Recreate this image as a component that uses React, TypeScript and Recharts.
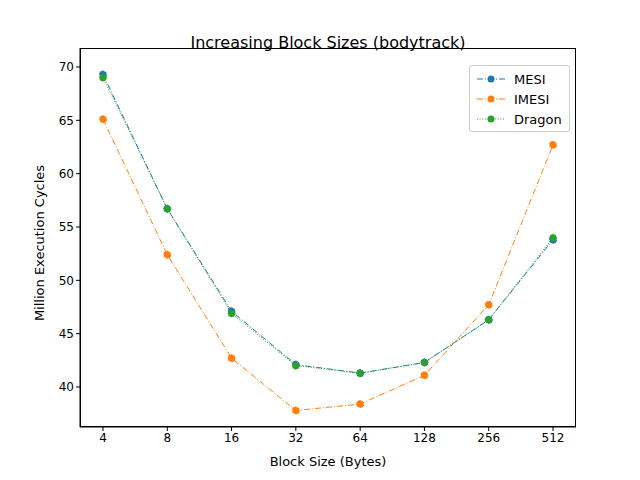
import React from "react";
import { LineChart, Line, XAxis, YAxis } from "recharts";

const categories = ["4", "8", "16", "32", "64", "128", "256", "512"];
const mesi = [69.3, 56.7, 47.1, 42.1, 41.3, 42.3, 46.3, 53.8];
const imesi = [65.1, 52.4, 42.7, 37.8, 38.4, 41.1, 47.7, 62.7];
const dragon = [69.0, 56.7, 46.9, 42.0, 41.3, 42.3, 46.3, 54.0];
const yTicks = [40, 45, 50, 55, 60, 65, 70];

const data = categories.map((c, i) => ({ c, MESI: mesi[i], IMESI: imesi[i], Dragon: dragon[i] }));
const series = [
  { key: "MESI", color: "#1f77b4", dash: "6 2 1 2" },
  { key: "IMESI", color: "#ff7f0e", dash: "6 2 1 2" },
  { key: "Dragon", color: "#2ca02c", dash: "1 1.6" },
];

const LegendBox = () => (
  <div style={{ position: "absolute", left: 469, top: 65, width: 101, height: 67, border: "1px solid #ccc", borderRadius: 3, background: "white", fontSize: 13, boxSizing: "border-box", padding: "3px 6px" }}>
    {series.map((s) => (
      <div key={s.key} style={{ display: "flex", alignItems: "center", height: 20 }}>
        <svg width={30} height={12}>
          <line x1={1} y1={6} x2={29} y2={6} stroke={s.color} strokeWidth={1} strokeDasharray={s.dash} />
          <circle cx={15} cy={6} r={3.5} fill={s.color} />
        </svg>
        <span style={{ marginLeft: 8 }}>{s.key}</span>
      </div>
    ))}
  </div>
);

export default function App() {
  return (
    <div style={{ position: "absolute", left: 0, top: 0, width: 640, height: 480, background: "white", fontFamily: "DejaVu Sans" }}>
      <div style={{ position: "absolute", top: 33, width: 640, paddingLeft: 16, boxSizing: "border-box", textAlign: "center", fontSize: 16 }}>
        Increasing Block Sizes (bodytrack)
      </div>
      <div style={{ position: "absolute", left: 80, top: 48, width: 496, height: 379, border: "1px solid #000", boxSizing: "border-box" }} />
      <LineChart width={640} height={480} data={data} margin={{ top: 48, right: 64, bottom: 23, left: 0 }} style={{ position: "absolute", left: 0, top: 0 }}>
        <XAxis dataKey="c" height={30} padding={{ left: 23, right: 23 }} stroke="#000" tick={{ fill: "#000", fontSize: 12 }} tickLine={{ stroke: "#000" }} tickSize={4} />
        <YAxis width={80} domain={[36.25, 71.78]} ticks={yTicks} stroke="#000" tick={{ fill: "#000", fontSize: 12 }} tickSize={4} allowDataOverflow />
        {series.map((s) => (
          <Line key={s.key} dataKey={s.key} stroke={s.color} strokeWidth={1} strokeDasharray={s.dash} isAnimationActive={false}
            dot={{ r: 3.5, fill: s.color, stroke: s.color }} activeDot={false} />
        ))}
      </LineChart>
      <div style={{ position: "absolute", top: 454, left: 80, width: 496, textAlign: "center", fontSize: 13 }}>Block Size (Bytes)</div>
      <div style={{ position: "absolute", left: 39, top: 243, transform: "translate(-50%, -50%) rotate(-90deg)", whiteSpace: "nowrap", fontSize: 13 }}>Million Execution Cycles</div>
      <LegendBox />
    </div>
  );
}
